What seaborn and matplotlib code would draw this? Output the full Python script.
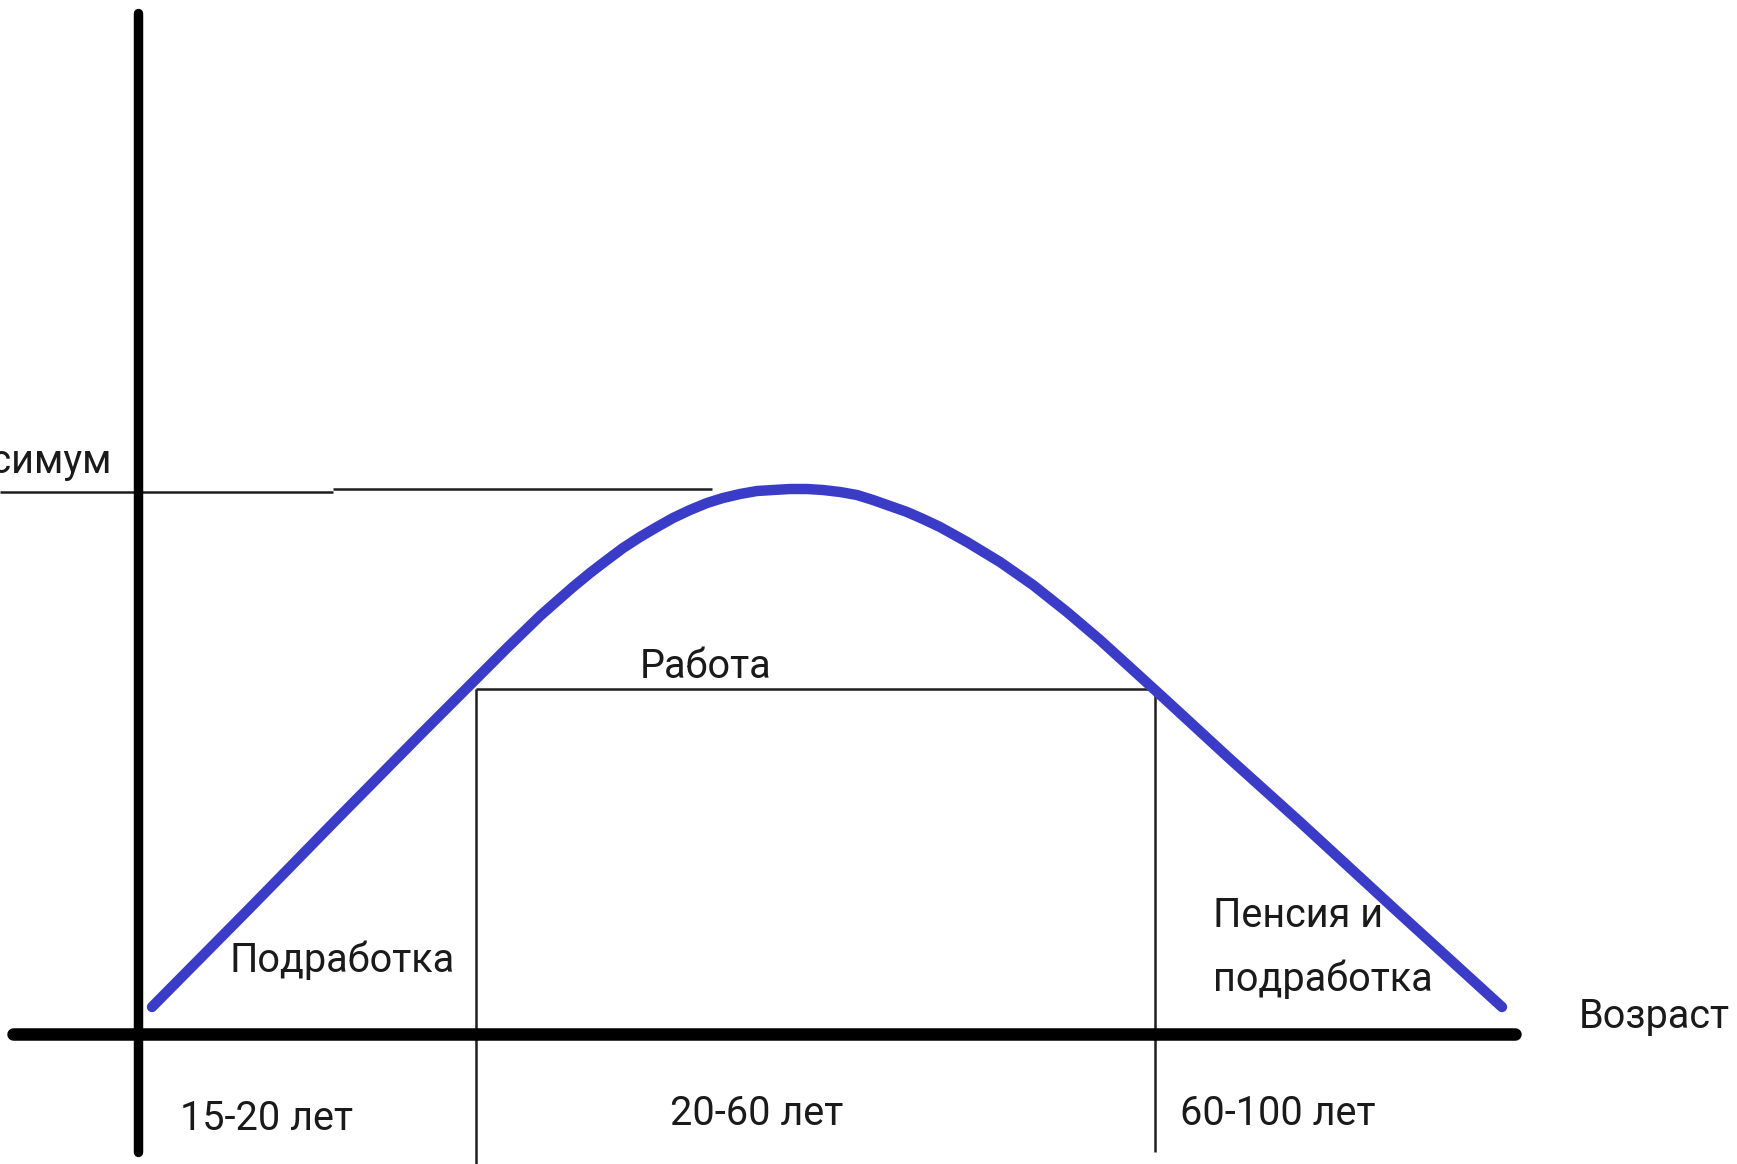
import matplotlib
matplotlib.use('Agg')
import matplotlib.pyplot as plt
import seaborn as sns
import pandas as pd

# схема: доход по возрасту (условные единицы, ось Y в 0, ось X в 0)
curve_x = [0.14, 1.12, 2.02, 2.82, 3.35, 3.69, 4.02,
           4.19, 4.35, 4.52, 4.69, 4.85, 5.02, 5.19, 5.35, 5.52, 5.69,
           5.85, 6.02, 6.19, 6.35, 6.52, 6.69, 6.85, 7.02, 7.19, 7.35,
           7.52, 7.69, 7.85, 8.02, 8.29, 8.62, 8.95, 9.29, 9.62, 9.95,
           10.29, 10.92, 11.62, 12.62, 13.64]
curve_y = [0.27, 1.26, 2.18, 2.99, 3.52, 3.86, 4.18,
           4.33, 4.47, 4.61, 4.74, 4.86, 4.97, 5.07, 5.16, 5.24, 5.31,
           5.36, 5.40, 5.43, 5.44, 5.45, 5.45, 5.44, 5.42, 5.39, 5.34,
           5.28, 5.22, 5.15, 5.07, 4.92, 4.72, 4.49, 4.22, 3.94, 3.64,
           3.33, 2.75, 2.12, 1.20, 0.27]

max_level = 5.45
work_level = 3.45
work_bounds = [3.38, 10.17]

stage_names = ['Подработка', 'Работа', 'Пенсия и\nподработка']
period_names = ['15-20 лет', '20-60 лет', '60-100 лет']
max_name = 'Максимум'
x_name = 'Возраст'

df = pd.DataFrame({'x': curve_x, 'y': curve_y})

sns.set_theme(style='white')
plt.rcParams['font.family'] = ['Roboto', 'DejaVu Sans']

fig = plt.figure(figsize=(17.37, 11.64), dpi=100)
ax = fig.add_axes([0, 0, 1, 1])

thin = dict(color='#1e1e1e', lw=1.8, solid_capstyle='butt')

# линия максимума (с маленькой ступенькой, как нарисовано от руки)
ax.plot([-1.38, 1.95], [max_level - 0.03, max_level - 0.03], **thin)
ax.plot([1.95, 5.74], [max_level, max_level], **thin)

# рамка "Работа"
ax.plot(work_bounds, [work_level, work_level], **thin)
ax.plot([work_bounds[0], work_bounds[0]], [work_level, -1.30], **thin)
ax.plot([work_bounds[1], work_bounds[1]], [work_level, -1.18], **thin)

# оси
ax.plot([0, 0], [-1.18, 10.21], color='black', lw=6.8, solid_capstyle='round')
ax.plot([-1.25, 13.77], [0, 0], color='black', lw=9, solid_capstyle='round')

sns.lineplot(data=df, x='x', y='y', ax=ax, color='#3a3cc8', lw=7.5,
             sort=False, estimator=None)
ax.lines[-1].set_solid_capstyle('round')
ax.lines[-1].set_solid_joinstyle('round')
ax.set_xlim(-1.38, 15.99)
ax.set_ylim(-1.30, 10.34)
ax.axis('off')

txt = dict(fontsize=28.5, color='#1a1a1a', va='baseline')
ax.text(-0.26, 5.61, max_name, ha='right', **txt)
ax.text(0.92, 0.62, stage_names[0], ha='left', **txt)
ax.text(5.02, 3.56, stage_names[1], ha='left', **txt)
ax.text(10.75, 1.07, stage_names[2].split('\n')[0], ha='left', **txt)
ax.text(10.75, 0.43, stage_names[2].split('\n')[1], ha='left', **txt)
ax.text(14.41, 0.06, x_name, ha='left', **txt)
ax.text(0.42, -0.96, period_names[0], ha='left', **txt)
ax.text(5.32, -0.91, period_names[1], ha='left', **txt)
ax.text(10.42, -0.91, period_names[2], ha='left', **txt)

fig.savefig('out.png', dpi=100)
